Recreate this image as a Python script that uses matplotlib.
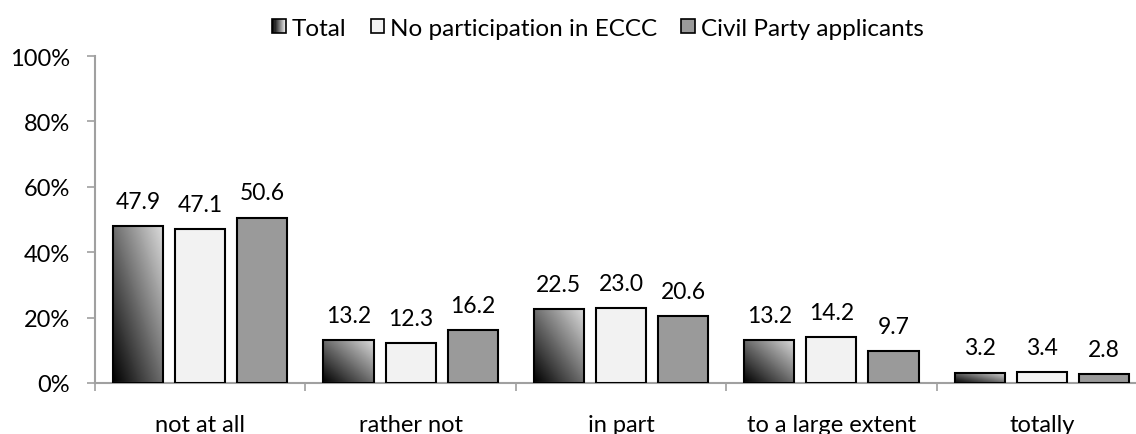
import numpy as np
import matplotlib
matplotlib.use('Agg')
import matplotlib.pyplot as plt
from matplotlib.patches import Rectangle
from matplotlib.legend_handler import HandlerBase
from matplotlib.colors import LinearSegmentedColormap
from matplotlib.ticker import FuncFormatter, FixedLocator

categories = ["not at all", "rather not", "in part", "to a large extent", "totally"]
series_names = ["Total", "No participation in ECCC", "Civil Party applicants"]
total = [47.9, 13.2, 22.5, 13.2, 3.2]
no_participation = [47.1, 12.3, 23.0, 14.2, 3.4]
civil_party = [50.6, 16.2, 20.6, 9.7, 2.8]
y_ticks = [0, 20, 40, 60, 80, 100]

plt.rcParams['font.family'] = ['Lato', 'DejaVu Sans']
FS = 17

fig = plt.figure(figsize=(11.36, 4.35), dpi=100)
ax = fig.add_axes([95 / 1136, 51 / 435, 1052 / 1136, 327 / 435])

x = np.arange(len(categories))
width = 0.238
offset = 0.295
cmap = LinearSegmentedColormap.from_list('g', ['#000000', '#dcdcdc'])
n = 64
u = np.linspace(0, 1, n)
grad = (u[None, :] + u[:, None]) / 2.0

# Total bars with diagonal gradient
bars_total = ax.bar(x - offset, total, width, facecolor='none', edgecolor='black',
                    linewidth=1.5, zorder=3)
for b in bars_total:
    x0, y0 = b.get_x(), b.get_y()
    w, h = b.get_width(), b.get_height()
    ax.imshow(grad, cmap=cmap, origin='lower', extent=(x0, x0 + w, y0, y0 + h),
              aspect='auto', zorder=2, interpolation='bilinear')
bars_np = ax.bar(x, no_participation, width, facecolor='#f2f2f2', edgecolor='black',
                 linewidth=1.5, zorder=3)
bars_cp = ax.bar(x + offset, civil_party, width, facecolor='#9a9a9a', edgecolor='black',
                 linewidth=1.5, zorder=3)

for bars, vals in ((bars_total, total), (bars_np, no_participation), (bars_cp, civil_party)):
    for b, v in zip(bars, vals):
        ax.annotate(f"{v:.1f}", (b.get_x() + b.get_width() / 2, v), xytext=(0, 13),
                    textcoords='offset points', ha='center', va='baseline',
                    fontsize=16.5)

ax.set_xlim(-0.5, len(categories) - 0.5)
ax.set_ylim(0, 100)
ax.set_yticks(y_ticks)
ax.yaxis.set_major_formatter(FuncFormatter(lambda v, p: f"{int(v)}%"))
ax.set_xticks(x)
ax.set_xticklabels(categories)
ax.xaxis.set_minor_locator(FixedLocator(np.arange(-0.5, len(categories), 1.0)))
ax.tick_params(axis='x', which='major', length=0, pad=22, labelsize=FS)
ax.tick_params(axis='x', which='minor', length=6, color='#a0a0a0', width=1.2)
ax.tick_params(axis='y', length=6, color='#a0a0a0', width=1.2, labelsize=FS, pad=12)
for s in ('top', 'right'):
    ax.spines[s].set_visible(False)
for s in ('left', 'bottom'):
    ax.spines[s].set_color('#a0a0a0')
    ax.spines[s].set_linewidth(1.5)


class GradHandler(HandlerBase):
    def create_artists(self, legend, orig_handle, xdescent, ydescent, width, height,
                       fontsize, trans):
        arts = []
        m = 12
        for i in range(m):
            c = cmap(i / (m - 1))
            arts.append(Rectangle((-xdescent + width * i / m, -ydescent), width / m + 0.3,
                                  height, facecolor=c, edgecolor='none', transform=trans))
        arts.append(Rectangle((-xdescent, -ydescent), width, height, facecolor='none',
                              edgecolor='black', linewidth=1.2, transform=trans))
        return arts


h_total = Rectangle((0, 0), 1, 1)
h_np = Rectangle((0, 0), 1, 1, facecolor='#f2f2f2', edgecolor='black', linewidth=1.2)
h_cp = Rectangle((0, 0), 1, 1, facecolor='#9a9a9a', edgecolor='black', linewidth=1.2)
fig.legend([h_total, h_np, h_cp], series_names, loc='center',
           bbox_to_anchor=(598 / 1136, 1 - 29 / 435), ncol=3, frameon=False,
           fontsize=17.5, handlelength=0.55, handleheight=0.55, handletextpad=0.25,
           columnspacing=1.0, borderpad=0, handler_map={h_total: GradHandler()})

fig.savefig('out.png', dpi=100)
